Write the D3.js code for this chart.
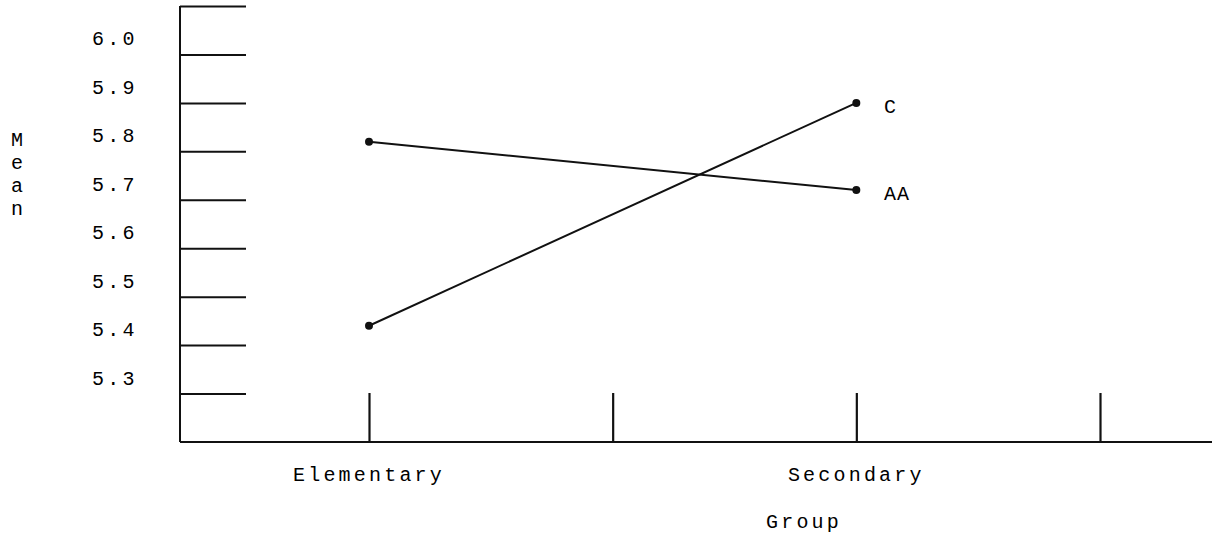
<!DOCTYPE html>
<html lang="en">
<head>
    <meta charset="UTF-8">
    <title>Mean by Group</title>
    <style>
        body { margin: 0; background: #fff; }
        text { font-family: "Liberation Mono", "Courier New", monospace; fill: #000; }
    </style>
</head>
<body>
    <div id="chart"></div>

    <script src="https://cdn.jsdelivr.net/npm/d3@7/dist/d3.min.js"></script>
    <script>

        // positions along the x axis (1 = Elementary, 3 = Secondary)
        const categories = ["Elementary", "", "Secondary", ""];
        const yTicks = [5.3, 5.4, 5.5, 5.6, 5.7, 5.8, 5.9, 6.0, 6.1];
        const yTickLabels = ["5.3", "5.4", "5.5", "5.6", "5.7", "5.8", "5.9", "6.0", ""];
        const seriesC = [5.44, 5.90];
        const seriesAA = [5.82, 5.72];
        const seriesNames = ["C", "AA"];

        const width = 1225, height = 539;

        const svg = d3.select("#chart")
            .append("svg")
            .attr("width", width)
            .attr("height", height);

        const x = d3.scaleLinear()
            .domain([1, 4])
            .range([369, 1100]);

        const y = d3.scaleLinear()
            .domain([5.2, 6.1])
            .range([442, 6]);

        const ink = "#111";

        // y axis: vertical line plus horizontal tick bars pointing right
        const yAxis = d3.axisRight(y)
            .tickValues(yTicks)
            .tickSize(66)
            .tickFormat("");

        const gy = svg.append("g")
            .attr("transform", "translate(180,0)")
            .call(yAxis);
        gy.select(".domain").remove();
        gy.selectAll(".tick line").attr("stroke", ink).attr("stroke-width", 2);

        svg.append("line")
            .attr("x1", 180).attr("x2", 180)
            .attr("y1", y(6.1)).attr("y2", y(5.2))
            .attr("stroke", ink).attr("stroke-width", 2);

        // tick labels sit a little above their bar
        svg.append("g")
            .selectAll("text")
            .data(yTicks)
            .join("text")
            .attr("x", 92)
            .attr("y", (d) => y(d) - 9)
            .attr("font-size", 20)
            .attr("letter-spacing", 3.2)
            .text((d, i) => yTickLabels[i]);

        // x axis: baseline and upward tick marks
        const xAxis = d3.axisTop(x)
            .tickValues([1, 2, 3, 4])
            .tickSize(49)
            .tickFormat("");

        const gx = svg.append("g")
            .attr("transform", `translate(0,${y(5.2)})`)
            .call(xAxis);
        gx.select(".domain").remove();
        gx.selectAll(".tick line").attr("stroke", ink).attr("stroke-width", 2.2);

        svg.append("line")
            .attr("x1", 180).attr("x2", 1212)
            .attr("y1", y(5.2)).attr("y2", y(5.2))
            .attr("stroke", ink).attr("stroke-width", 2);

        svg.append("g")
            .selectAll("text")
            .data(categories)
            .join("text")
            .attr("x", (d, i) => x(i + 1))
            .attr("y", 481)
            .attr("text-anchor", "middle")
            .attr("font-size", 20)
            .attr("letter-spacing", 3.2)
            .text((d) => d);

        svg.append("text")
            .attr("x", 804)
            .attr("y", 528)
            .attr("text-anchor", "middle")
            .attr("font-size", 20)
            .attr("letter-spacing", 3.2)
            .text("Group");

        // vertical "Mean" label, one letter per line
        svg.append("g")
            .selectAll("text")
            .data("Mean".split(""))
            .join("text")
            .attr("x", 17)
            .attr("y", (d, i) => 146 + i * 23)
            .attr("text-anchor", "middle")
            .attr("font-size", 20)
            .text((d) => d);

        // series lines
        const line = d3.line()
            .x((d, i) => x(1 + i * 2))
            .y((d) => y(d));

        const series = [seriesC, seriesAA];

        svg.append("g")
            .selectAll("path")
            .data(series)
            .join("path")
            .attr("d", line)
            .attr("fill", "none")
            .attr("stroke", ink)
            .attr("stroke-width", 2);

        series.forEach((s) => {
            svg.append("g")
                .selectAll("circle")
                .data(s)
                .join("circle")
                .attr("cx", (d, i) => x(1 + i * 2))
                .attr("cy", (d) => y(d))
                .attr("r", 4)
                .attr("fill", ink);
        });

        // end labels
        svg.append("g")
            .selectAll("text")
            .data(series)
            .join("text")
            .attr("x", 884)
            .attr("y", (d) => y(d[1]) + 10)
            .attr("font-size", 20)
            .attr("letter-spacing", 1)
            .text((d, i) => seriesNames[i]);

    </script>
</body>
</html>
